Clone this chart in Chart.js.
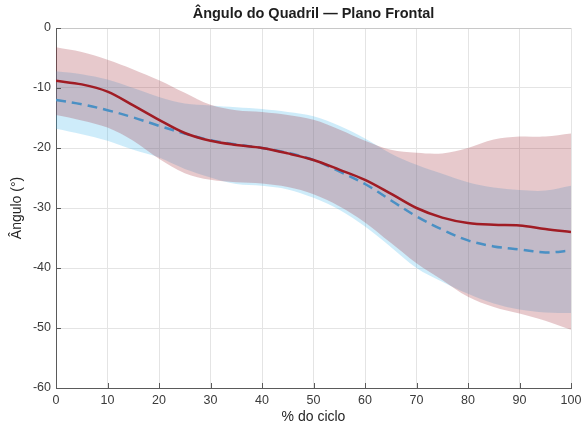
<!DOCTYPE html>
<html>
<head>
<meta charset="utf-8">
<script src="https://cdn.jsdelivr.net/npm/chart.js@4/dist/chart.umd.min.js"></script>
<style>
  html, body { margin: 0; padding: 0; background: #ffffff; }
  #wrap { width: 582px; height: 430px; }
</style>
</head>
<body>
<div id="wrap"><canvas id="c" width="582" height="430"></canvas></div>
<script>
// Gait cycle (%) and hip angle in the frontal plane (degrees)
const cycle = [0, 5, 10, 15, 20, 25, 30, 35, 40, 45, 50, 55, 60, 65, 70, 75, 80, 85, 90, 95, 100];

const redMean  = [-8.8, -9.4, -10.6, -12.9, -15.3, -17.5, -18.8, -19.5, -20.0, -20.9, -22.0, -23.6, -25.3, -27.6, -30.0, -31.6, -32.5, -32.8, -32.9, -33.5, -34.0];
const redUpper = [-3.2, -4.0, -5.3, -6.9, -8.7, -10.8, -12.8, -13.7, -14.0, -14.5, -15.3, -16.9, -18.8, -20.3, -20.8, -20.9, -20.0, -18.6, -18.1, -18.1, -17.6];
const redLower = [-14.5, -15.4, -16.6, -18.8, -21.8, -24.2, -25.3, -25.7, -25.9, -26.5, -27.7, -29.7, -32.4, -35.8, -39.2, -42.0, -44.8, -46.5, -47.6, -48.8, -50.3];

const blueMean  = [-12.0, -12.7, -13.7, -14.9, -16.3, -17.6, -18.7, -19.4, -20.0, -20.8, -22.0, -23.9, -26.0, -28.7, -31.4, -33.6, -35.4, -36.4, -36.9, -37.4, -37.1];
const blueUpper = [-7.2, -7.7, -8.6, -10.0, -11.5, -12.6, -12.9, -13.2, -13.5, -14.0, -14.7, -16.3, -18.4, -20.9, -22.8, -24.3, -25.7, -26.6, -27.0, -27.1, -26.3];
const blueLower = [-16.8, -17.7, -18.8, -20.3, -21.6, -23.5, -24.9, -26.0, -26.3, -26.9, -28.3, -30.3, -33.1, -36.5, -40.0, -42.3, -44.3, -45.9, -46.9, -47.4, -47.5];

const xTicks = [0, 10, 20, 30, 40, 50, 60, 70, 80, 90, 100];
const yTicks = [-60, -50, -40, -30, -20, -10, 0];

const titleText = 'Ângulo do Quadril — Plano Frontal';
const xLabel = '% do ciclo';
const yLabel = 'Ângulo (°)';

const pts = (ys) => cycle.map((x, i) => ({ x: x, y: ys[i] }));

const FONT = '"Liberation Sans", Arial, Helvetica, sans-serif';
const RED = 'rgb(160, 28, 36)';
const RED_BAND = 'rgba(160, 40, 50, 0.25)';
const BLUE = 'rgb(74, 144, 196)';
const BLUE_BAND = 'rgba(60, 180, 235, 0.25)';

function band(data, fill, color) {
  return {
    data: pts(data), fill: fill, backgroundColor: color,
    borderWidth: 0, pointRadius: 0, tension: 0.35
  };
}

// Short inward tick marks on the left and bottom axes
const innerTicks = {
  id: 'innerTicks',
  afterDatasetsDraw(chart) {
    const { ctx, chartArea, scales } = chart;
    ctx.save();
    ctx.strokeStyle = '#5a5a5a';
    ctx.lineWidth = 1;
    ctx.beginPath();
    xTicks.forEach(v => {
      const px = Math.round(scales.x.getPixelForValue(v)) + 0.5;
      ctx.moveTo(px, chartArea.bottom);
      ctx.lineTo(px, chartArea.bottom - 5);
    });
    yTicks.forEach(v => {
      const py = Math.round(scales.y.getPixelForValue(v)) + 0.5;
      ctx.moveTo(chartArea.left, py);
      ctx.lineTo(chartArea.left + 5, py);
    });
    ctx.stroke();
    ctx.restore();
  }
};

new Chart(document.getElementById('c'), {
  type: 'line',
  data: {
    datasets: [
      band(redUpper, '+1', RED_BAND),
      band(redLower, false, 'transparent'),
      band(blueUpper, '+1', BLUE_BAND),
      band(blueLower, false, 'transparent'),
      {
        data: pts(redMean), borderColor: RED, borderWidth: 2.5,
        pointRadius: 0, fill: false, tension: 0.35
      },
      {
        data: pts(blueMean), borderColor: BLUE, borderWidth: 2.5,
        borderDash: [10, 6], pointRadius: 0, fill: false, tension: 0.35
      }
    ]
  },
  options: {
    responsive: false,
    animation: false,
    events: [],
    layout: { padding: { left: 0, right: 11, top: 0, bottom: 0 } },
    plugins: {
      legend: { display: false },
      tooltip: { enabled: false },
      filler: { drawTime: 'beforeDatasetsDraw' },
      title: {
        display: true,
        fullSize: false,
        text: titleText,
        color: '#1e1e1e',
        font: { family: FONT, size: 14.5, weight: 'bold', lineHeight: 1.2 },
        padding: { top: 5, bottom: 5.6 }
      }
    },
    scales: {
      x: {
        type: 'linear', min: 0, max: 100,
        afterBuildTicks(scale) { scale.ticks = xTicks.map(v => ({ value: v })); },
        afterFit(scale) { scale.height = 42; scale.paddingLeft = 0; scale.paddingRight = 0; },
        ticks: {
          autoSkip: false, maxRotation: 0, padding: 5,
          color: '#3a3a3a', font: { family: FONT, size: 12.5 }
        },
        grid: { color: '#e4e4e4', lineWidth: 1, drawTicks: false },
        border: { display: true, color: '#5a5a5a', width: 1 },
        title: {
          display: true, text: xLabel, color: '#262626',
          font: { family: FONT, size: 14, lineHeight: 1.2 },
          padding: { top: 0, bottom: 4 }
        }
      },
      y: {
        type: 'linear', min: -60, max: 0,
        afterBuildTicks(scale) { scale.ticks = yTicks.map(v => ({ value: v })); },
        afterFit(scale) { scale.width = 56; scale.paddingTop = 0; scale.paddingBottom = 0; },
        ticks: {
          autoSkip: false, padding: 5,
          color: '#3a3a3a', font: { family: FONT, size: 12.5 }
        },
        grid: {
          color: (ctx) => (ctx.tick && ctx.tick.value === 0) ? '#c8c8c8' : '#e4e4e4',
          lineWidth: 1, drawTicks: false
        },
        border: { display: true, color: '#5a5a5a', width: 1 },
        title: {
          display: true, text: yLabel, color: '#262626',
          font: { family: FONT, size: 14, lineHeight: 1.2 },
          padding: { top: 9, bottom: 0 }
        }
      }
    }
  },
  plugins: [innerTicks]
});
</script>
</body>
</html>
